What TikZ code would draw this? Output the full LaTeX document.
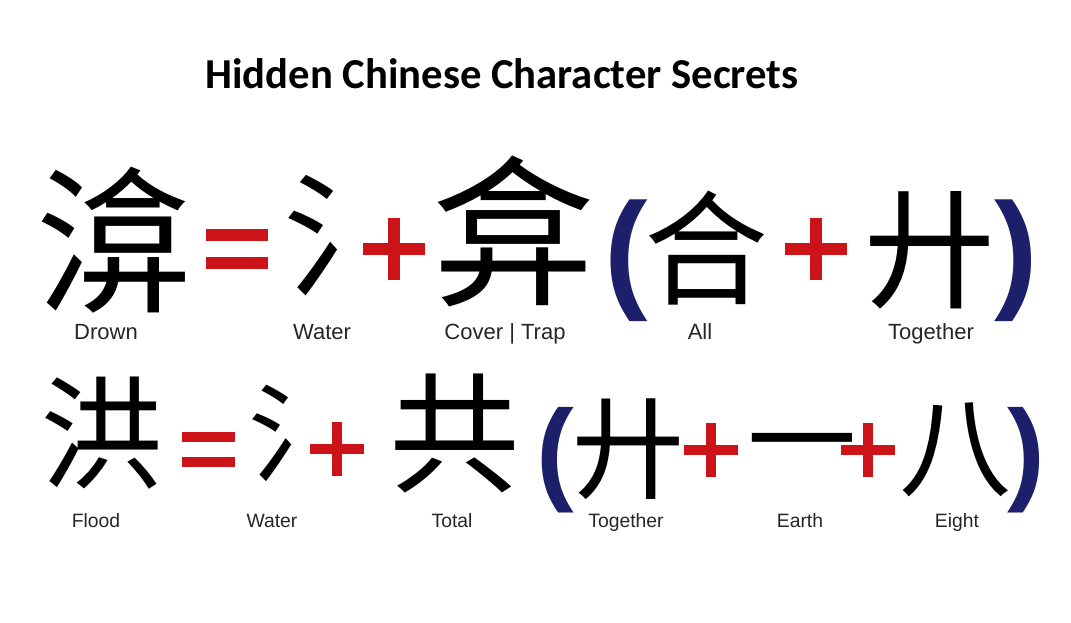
\documentclass[tikz,border=0pt]{standalone}
\usepackage{fontspec}
\setmainfont{Liberation Sans}
\newfontfamily\cjk{Noto Sans CJK SC}
\newfontfamily\calib{Carlito}
\usetikzlibrary{positioning}
\definecolor{opred}{HTML}{CC1418}
\definecolor{parnavy}{HTML}{1C1F6A}

% x, y, half length, half thickness
\newcommand\opplus[4]{%
  \fill[opred] ({#1-#3},{#2-#4}) rectangle ({#1+#3},{#2+#4});
  \fill[opred] ({#1-#4},{#2-#3}) rectangle ({#1+#4},{#2+#3});
}
% x left, x right, y upper bar, y lower bar, half thickness
\newcommand\opequal[5]{%
  \fill[opred] (#1,{#3-#5}) rectangle (#2,{#3+#5});
  \fill[opred] (#1,{#4-#5}) rectangle (#2,{#4+#5});
}

\begin{document}
\begin{tikzpicture}[x=0.75pt,y=-0.75pt,
  hanzi/.style={inner sep=0pt,font=\cjk\fontsize{#1}{#1}\selectfont},
  gloss/.style={inner sep=0pt,anchor=base,text=black!85,font=\fontsize{#1}{#1}\selectfont},
  paren/.style={inner sep=0pt,text=parnavy,font=\bfseries\fontsize{#1}{#1}\selectfont}]
\useasboundingbox[fill=white] (0,0) rectangle (1071,623);

% title
\node[inner sep=0pt,font=\calib\bfseries\fontsize{32}{32}\selectfont] (title) at (502,74) {Hidden Chinese Character Secrets};

% first row
\node[hanzi=118] (drown) at (114,240) {渰};
\opequal{206}{268}{235}{263}{6}
\node[hanzi=100] (water) at (350,236) {氵};
\opplus{394}{249}{31}{6.25}
\node[hanzi=122] (cover) at (514,231) {弇};
\node[paren=98] (lpa) at (626,261) {(};
\node[hanzi=93] (all) at (706,248) {合};
\opplus{816}{249}{31}{6.25}
\node[hanzi=98] (together) at (930,250) {廾};
\node[paren=98] (rpa) at (1016,261) {)};

\foreach \txt/\x in {Drown/106,Water/322,Cover {\textbar} Trap/505,All/700,Together/931}
  \node[gloss=16.5] (g1-\x) at (\x,340) {\txt};

% second row
\node[hanzi=92] (flood) at (102,433) {洪};
\opequal{182}{235}{437}{462}{5}
\node[hanzi=80] (water2) at (302,433) {氵};
\opplus{337}{449}{27}{5}
\node[hanzi=98] (total) at (455,433) {共};
\node[paren=85] (lpb) at (555,460) {(};
\node[hanzi=84] (together2) at (628,449) {廾};
\opplus{711}{450}{27}{5}
\node[hanzi=82] (earth) at (802,457) {一};
\opplus{868}{450}{27}{5}
\node[hanzi=84] (eight) at (955,450) {八};
\node[paren=85] (rpb) at (1026,460) {)};

\foreach \txt/\x in {Flood/96,Water/272,Total/452,Together/626,Earth/800,Eight/957}
  \node[gloss=14.5] (g2-\x) at (\x,527) {\txt};
\end{tikzpicture}
\end{document}
